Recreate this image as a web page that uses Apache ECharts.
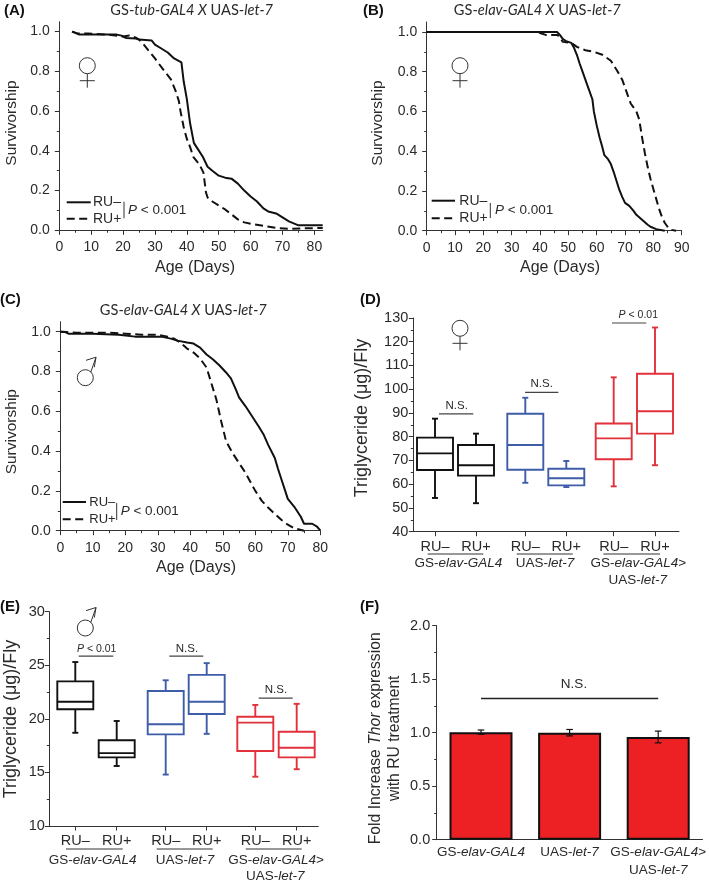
<!DOCTYPE html>
<html><head><meta charset="utf-8">
<style>html,body{margin:0;padding:0;background:#fff}#c{width:709px;height:885px}</style>
<script src="https://cdn.jsdelivr.net/npm/echarts@6/dist/echarts.min.js"></script>
</head><body><div id="c"></div>
<script>
// ---------- survival curves: [age, survivorship]
const aSolid=[[4,1],[6.3,.985],[18,.985],[19.5,.98],[21,.968],[24,.965],[25,.96],[29,.955],[30,.935],[32,.915],[34,.895],[36,.865],[38.3,.845],[39,.75],[40,.66],[41,.54],[42.2,.44],[43,.42],[45,.37],[46.5,.32],[48,.3],[50,.275],[52,.265],[54,.26],[56,.235],[58,.2],[60,.17],[62,.145],[64,.11],[65.5,.095],[68,.085],[70,.065],[72,.045],[75,.025],[82.6,.025]];
const aDash=[[4,1],[6,.99],[9,.99],[15,.985],[20,.975],[22,.98],[24,.97],[25,.96],[26.5,.935],[28,.905],[30,.865],[33,.8],[35,.76],[36.5,.7],[37.5,.65],[38,.6],[39,.52],[40,.46],[41,.42],[42,.37],[44,.33],[45.2,.29],[46,.19],[46.5,.165],[48,.145],[50,.125],[52,.105],[54,.08],[56,.055],[58,.04],[60,.033],[65,.02],[68,.012],[72,.008],[82.6,.012]];
const bSolid=[[0,1],[46,1],[47,.985],[48,.965],[49,.955],[51,.945],[52,.92],[53,.885],[54,.84],[55,.8],[56,.76],[57,.72],[58.5,.66],[59,.6],[60,.53],[61,.47],[62,.42],[62.7,.38],[64,.36],[65,.335],[66,.295],[67,.25],[68,.205],[69,.17],[70,.14],[71.5,.125],[73,.1],[74,.08],[76,.055],[78,.03],[79,.02],[81,.008],[84,0]];
const bDash=[[0,1],[39,1],[40,.995],[42,.985],[46,.985],[47,.975],[48,.95],[51,.945],[53,.925],[56,.908],[59,.9],[62,.885],[65,.855],[67,.81],[69,.76],[71,.68],[72,.64],[74,.6],[75,.56],[76,.47],[77,.39],[78,.32],[79,.26],[80,.21],[81,.16],[82,.11],[83,.07],[84,.04],[85,.02],[86,.005],[88,0]];
const cSolid=[[0,1],[1.5,.998],[2.5,.99],[10,.99],[18,.985],[23,.975],[31,.975],[34,.965],[36,.955],[39,.945],[41,.94],[43,.92],[45,.885],[47,.86],[49,.83],[51,.795],[52.5,.765],[54,.71],[55,.67],[57,.625],[59,.575],[61,.525],[62.5,.485],[64,.43],[66,.365],[67,.31],[68,.26],[69,.21],[70,.16],[72,.12],[74,.07],[75,.035],[77.5,.035],[79,.02],[80,.002]];
const cDash=[[0,1],[2,.998],[5,.995],[15,.995],[20,.99],[25,.985],[30,.985],[33,.975],[35,.965],[37,.945],[39,.915],[41,.895],[43,.865],[45,.82],[46.5,.74],[48,.66],[49.5,.55],[51,.45],[53,.39],[55,.34],[57,.29],[59,.23],[60,.2],[62,.15],[64,.115],[66,.085],[68,.055],[70,.03],[72,.012],[75,0]];
// ---------- box plots: [min, Q1, median, Q3, max]
const dStats=[[54.2,66,73,79.6,87.6],[52,63.6,68,76.5,81.3],[60.6,66.1,76.5,89.7,96.4],[58.8,59.5,62.5,66.5,69.8],[59.1,70.5,79.3,85.6,105],[68,81.3,90.7,106.5,126]];
const eStats=[[18.7,20.9,21.6,23.5,25.3],[15.6,16.4,16.8,18,19.8],[14.8,18.55,19.5,22.6,23.6],[18.6,20.45,21.6,24.1,25.2],[14.6,17,19.65,20.2,21.3],[15.3,16.4,17.3,18.8,21.4]];
const dBoxX=[21.7,62.7,112,153,200.4,241.7];
const eBoxX=[26,67.4,116.4,157.4,206,247.4];
const boxLabels=['RU–','RU+','RU–','RU+','RU–','RU+'];
const dBrackets=[[[25.7,89.6],[60,89.6]],[[111.7,98.7],[145,98.7]],[[198.7,127.9],[233,127.9]]];
const eBrackets=[[[29.4,25.86],[64,25.86]],[[120,25.86],[154,25.86]],[[209.4,21.94],[243.4,21.94]]];
// ---------- bars
const fCategories=['GS-elav-GAL4','UAS-let-7','GS-elav-GAL4>\nUAS-let-7'];
const fValues=[1.005,1.0,0.96];
const fErrors=[0.02,0.03,0.055];
const fBracket=[[0,1.32],[2,1.32]];

const BLACK='#111',BLUE='#3f5ca9',RED='#e2313b',INK='#2a2a2a',AXIS='#333';
const SANS='"Liberation Sans",Arial,sans-serif';
const xAxis=[],yAxis=[],grid=[],series=[],graphic=[];

function range(a,b,s){const r=[];for(let i=0;Math.round(a*100)+i*Math.round(s*100)<=Math.round(b*100);i++)r.push(+(a+i*s).toFixed(3));return r;}
function addAxes(list,gi,pos,min,max,major,minor,fmt,margin,fs){
  const idx=list.length;
  list.push({type:'value',gridIndex:gi,position:pos,min,max,splitLine:{show:false},
    axisLine:{show:true,onZero:false,lineStyle:{color:AXIS,width:1}},
    axisTick:{show:true,customValues:major,length:4.5,lineStyle:{color:AXIS,width:1}},
    axisLabel:{show:true,customValues:major,margin,color:INK,fontFamily:SANS,fontSize:fs,hideOverlap:false,formatter:fmt,showMinLabel:true,showMaxLabel:true}});
  if(minor&&minor.length)list.push({type:'value',gridIndex:gi,position:pos,min,max,splitLine:{show:false},
    axisLine:{show:false,onZero:false},
    axisTick:{show:true,customValues:minor,length:2.5,lineStyle:{color:AXIS,width:1}},
    axisLabel:{show:false}});
  return idx;
}
function txt(text,x,y,size,o){
  o=o||{};
  graphic.push({type:'text',x,y,rotation:o.rot||0,z:20,silent:true,style:{text,fontFamily:o.font||SANS,fontSize:size,fontWeight:o.weight||'normal',fill:o.fill||INK,align:o.align||'center',verticalAlign:'middle',
    rich:{i:{fontStyle:'italic',fontFamily:o.font||SANS,fontSize:size,fill:o.fill||INK,lineHeight:o.lh},n:{fontFamily:o.font||SANS,fontSize:size,fill:o.fill||INK,lineHeight:o.lh}}}});
}
function seg(x1,y1,x2,y2,w,c,dash){graphic.push({type:'line',z:20,silent:true,shape:{x1,y1,x2,y2},style:{stroke:c||INK,lineWidth:w||1,lineDash:dash}});}
function female(cx,cy){graphic.push({type:'circle',z:20,silent:true,shape:{cx,cy,r:8},style:{fill:'none',stroke:'#333',lineWidth:1}});seg(cx,cy+8,cx,cy+22,1,'#333');seg(cx-7.5,cy+15,cx+7.5,cy+15,1,'#333');}
function male(cx,cy){graphic.push({type:'circle',z:20,silent:true,shape:{cx,cy,r:8},style:{fill:'none',stroke:'#333',lineWidth:1}});seg(cx+5.5,cy-5.7,cx+10.7,cy-20.5,1,'#333');seg(cx+.7,cy-17.4,cx+10.7,cy-20.5,1,'#333');seg(cx+9,cy-10.4,cx+10.7,cy-20.5,1,'#333');}

function survival(g,xMax,xMajor,xMinor,solid,dash){
  grid.push({left:g[0],top:g[1],width:g[2],height:g[3],containLabel:false});
  const gi=grid.length-1;
  const xi=addAxes(xAxis,gi,'bottom',0,xMax,xMajor,xMinor,v=>String(Math.round(v)),10,14);
  const yi=addAxes(yAxis,gi,'left',0,1.05,range(0,1,.2),range(.1,.9,.2),v=>v.toFixed(1),9.5,14);
  const base={type:'line',xAxisIndex:xi,yAxisIndex:yi,showSymbol:false,symbol:'none',animation:false,clip:false,silent:true};
  series.push(Object.assign({},base,{name:'RU–',data:solid,lineStyle:{color:'#111',width:2}}));
  series.push(Object.assign({},base,{name:'RU+',data:dash,lineStyle:{color:'#111',width:2,type:[8,4.5]}}));
}
function boxPanel(g,yMin,yMax,yMajor,yMinor,boxX,stats,brackets,xMargin,yMargin){
  grid.push({left:g[0],top:g[1],width:g[2],height:g[3]});
  const gi=grid.length-1;
  const xi=addAxes(xAxis,gi,'bottom',0,g[2],boxX,null,v=>boxLabels[boxX.indexOf(v)]||'',xMargin,14.5);
  const yi=addAxes(yAxis,gi,'left',yMin,yMax,yMajor,yMinor,v=>String(Math.round(v)),yMargin,14.5);
  const colors=[BLACK,BLACK,BLUE,BLUE,RED,RED];
  series.push({type:'custom',xAxisIndex:xi,yAxisIndex:yi,animation:false,silent:true,clip:false,
    data:boxX.map((x,i)=>[x].concat(stats[i])),
    renderItem(p,api){
      const x=api.value(0),c=colors[p.dataIndex];
      const P=v=>api.coord([x,v]);
      const [cx,yLo]=P(api.value(1));const yQ1=P(api.value(2))[1],yMd=P(api.value(3))[1],yQ3=P(api.value(4))[1],yHi=P(api.value(5))[1];
      const st={stroke:c,lineWidth:1.9,fill:'none'},hw=18,cap=3;
      const L=(x1,y1,x2,y2)=>({type:'line',shape:{x1,y1,x2,y2},style:st});
      return {type:'group',children:[
        L(cx,yHi,cx,yQ3),L(cx,yQ1,cx,yLo),L(cx-cap,yHi,cx+cap,yHi),L(cx-cap,yLo,cx+cap,yLo),
        {type:'rect',shape:{x:cx-hw,y:yQ3,width:2*hw,height:yQ1-yQ3},style:st},
        L(cx-hw,yMd,cx+hw,yMd)]};
    }});
  brackets.forEach(b=>series.push({type:'line',xAxisIndex:xi,yAxisIndex:yi,data:b,symbol:'none',animation:false,silent:true,clip:false,lineStyle:{color:'#444',width:1.2}}));
}

// Panels A, B, C
survival([59.3,21.7,263.4,208.6],82.6,range(0,80,10),range(5,75,10),aSolid,aDash);
survival([426.7,22,255,208.7],90,range(0,90,10),range(5,85,10),bSolid,bDash);
survival([60.3,321.7,260,209],80,range(0,80,10),range(5,75,10),cSolid,cDash);
// Panels D, E
boxPanel([413.3,318,265.7,213.7],40,130,range(40,130,10),range(45,125,10),dBoxX,dStats,dBrackets,8,5);
boxPanel([49.3,611.7,269,214.3],10,30,range(10,30,5),[12.5,17.5,22.5,27.5],eBoxX,eStats,eBrackets,7,4.5);

// Panel F
grid.push({left:436.7,top:625.7,width:266,height:214});
{
  const gi=grid.length-1;
  const xi=xAxis.length;
  xAxis.push({type:'category',gridIndex:gi,position:'bottom',data:fCategories,
    axisLine:{show:true,lineStyle:{color:AXIS}},axisTick:{alignWithLabel:true,length:4.5,lineStyle:{color:AXIS}},
    axisLabel:{interval:0,margin:3.5,color:INK,fontFamily:SANS,fontSize:13.5,lineHeight:18,hideOverlap:false,
      formatter:v=>v.split('\n').map(l=>l.replace(/(elav-GAL4|let-7)/,'{i|$1}').replace(/^([^{]*)\{/,'{n|$1}{').replace(/\}(>)$/,'}{n|$1}')).join('\n'),
      rich:{i:{fontStyle:'italic',fontFamily:SANS,fontSize:13.5,color:INK,lineHeight:18},n:{fontFamily:SANS,fontSize:13.5,color:INK,lineHeight:18}}}});
  const yi=addAxes(yAxis,gi,'left',0,2,range(0,2,.5),[.25,.75,1.25,1.75],v=>v.toFixed(1),6.5,14.5);
  series.push({type:'bar',xAxisIndex:xi,yAxisIndex:yi,data:fValues,barWidth:63,animation:false,silent:true,itemStyle:{color:'#ed2024',borderColor:'#111',borderWidth:2}});
  series.push({type:'custom',xAxisIndex:xi,yAxisIndex:yi,animation:false,silent:true,clip:false,z:5,
    data:fValues.map((v,i)=>[i,v-fErrors[i],v+fErrors[i]]),
    renderItem(p,api){
      const a=api.coord([api.value(0),api.value(1)]),b=api.coord([api.value(0),api.value(2)]);
      const st={stroke:'#111',lineWidth:1.2};const L=(x1,y1,x2,y2)=>({type:'line',shape:{x1,y1,x2,y2},style:st});
      return {type:'group',children:[L(a[0],a[1],b[0],b[1]),L(a[0]-3.3,a[1],a[0]+3.3,a[1]),L(b[0]-3.3,b[1],b[0]+3.3,b[1])]};
    }});
  series.push({type:'line',xAxisIndex:xi,yAxisIndex:yi,data:fBracket,symbol:'none',animation:false,silent:true,clip:false,lineStyle:{color:'#222',width:1.5}});
}

// Panel letters
[['(A)',4,11],['(B)',363,11],['(C)',0,300],['(D)',360,300],['(E)',0,607],['(F)',360,607]].forEach(a=>txt(a[0],a[1],a[2],15,{align:'left',weight:'bold',fill:'#111'}));
// Panel titles
const TF='Lato,"Open Sans",sans-serif';
txt('{n|GS-}{i|tub-GAL4 X} {n|UAS-}{i|let-7}',191.7,10.5,14.6,{font:TF});
txt('{n|GS-}{i|elav-GAL4 X} {n|UAS-}{i|let-7}',537.3,10.5,14.6,{font:TF});
txt('{n|GS-}{i|elav-GAL4 X} {n|UAS-}{i|let-7}',183.3,310.7,14.6,{font:TF});
// Axis titles
const R=Math.PI/2;
[[11.5,123],[378,123],[12,431.7]].forEach(p=>txt('Survivorship',p[0],p[1],15.5,{rot:R}));
[[195,267.3],[560,267.3],[196,567.7]].forEach(p=>txt('Age (Days)',p[0],p[1],16));
txt('Triglyceride (μg)/Fly',362,418,18,{rot:R});
txt('Triglyceride (μg)/Fly',11,719,18,{rot:R});
txt('{n|Fold Increase }{i|Thor}{n| expression}',375.7,738.3,15.7,{rot:R});
txt('with RU treatment',395,738.3,15.7,{rot:R});
// Survival keys
function key(x1,x2,y1,y2,tx,bx,by1,by2,px,py,fs){
  seg(x1,y1,x2,y1,2,'#111');seg(x1,y2,x2,y2,2,'#111',[8,4.5]);
  txt('RU–',tx,y1,fs,{align:'left'});txt('RU+',tx,y2,fs,{align:'left'});
  seg(bx,by1,bx,by2,1,'#333');
  txt('{i|P}{n| < 0.001}',px,py,13.5,{align:'left'});
}
key(66.7,90.7,202.3,218.7,93,124,201.7,218.3,128,210,14);
key(431.7,455,200.7,218.3,459.3,490.3,203,218,495,210.7,14);
key(62.7,86,502,519.3,89.3,116.7,503,520,120.7,511.7,13);
// Sex symbols
female(87.3,65.7);female(460,65.7);female(460,328.3);male(85.3,377.7);male(85.3,628);
// Box annotations
txt('N.S.',456.7,405.7,11.5);txt('N.S.',541.7,384,11.5);txt('{i|P}{n| < 0.01}',638.3,315,10.5);
txt('{i|P}{n| < 0.01}',96.7,649.3,10.5);txt('N.S.',187,649.3,11.5);txt('N.S.',276,689.7,11.5);
txt('N.S.',574,684.3,13.5);
// Group captions
[[427.7,483.3],[516.7,572.7],[603.3,660]].forEach(s=>seg(s[0],554,s[1],554,1.2,'#333'));
[[66,122.7],[156.7,212.7],[245.7,301.7]].forEach(s=>seg(s[0],849,s[1],849,1.2,'#333'));
const GE='{n|GS-}{i|elav-GAL4}',UL='{n|UAS-}{i|let-7}';
txt(GE,458.3,563.3,13.5);txt(UL,545,563.3,13.5);txt(GE+'{n|>}',638.3,563.3,13.5);txt(UL,637.7,580.7,13.5);
txt(GE,92.7,860,13.5);txt(UL,185,860,13.5);txt(GE+'{n|>}',276,860,13.5);txt(UL,275.3,876,13.5);

const chart=echarts.init(document.getElementById('c'),null,{renderer:'canvas'});
chart.setOption({animation:false,backgroundColor:'#fff',grid,xAxis,yAxis,series,graphic:{elements:graphic}});
</script></body></html>
